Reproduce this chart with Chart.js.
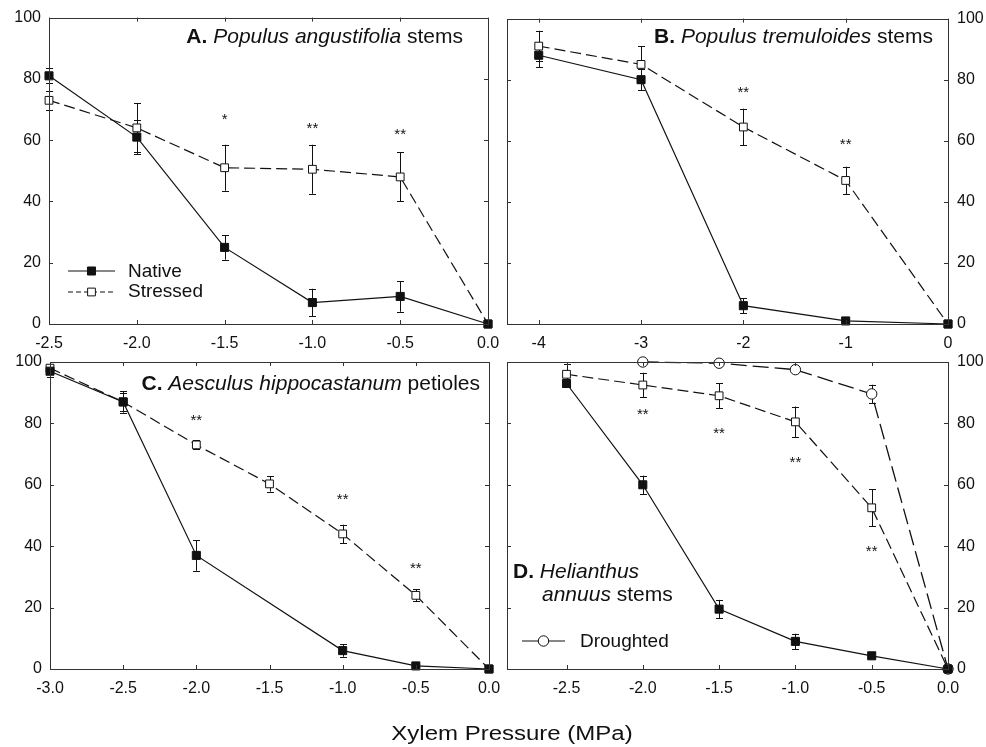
<!DOCTYPE html>
<html>
<head>
<meta charset="utf-8">
<script src="https://cdn.jsdelivr.net/npm/chart.js@4.4.1/dist/chart.umd.min.js"></script>
<style>
html,body{margin:0;padding:0;background:#fff;}
#wrap{position:relative;width:986px;height:747px;overflow:hidden;background:#fff;}
canvas{position:absolute;left:0;top:0;}
#xt{position:absolute;left:512px;top:723px;white-space:nowrap;font:20px/20px "Liberation Sans",Arial,Helvetica,sans-serif;color:#111;transform:translateX(-50%) scaleX(1.2);}
</style>
</head>
<body>
<div id="wrap">
<canvas id="cA" width="986" height="747"></canvas>
<canvas id="cB" width="986" height="747"></canvas>
<canvas id="cC" width="986" height="747"></canvas>
<canvas id="cD" width="986" height="747"></canvas>
<div id="xt">Xylem Pressure (MPa)</div>
</div>
<script>
// ---------------- DATA ----------------
const yTicks = [0, 20, 40, 60, 80, 100];

// Panel A: Populus angustifolia stems
const aXTicks = [-2.5, -2.0, -1.5, -1.0, -0.5, 0.0];
const aX = [-2.5, -2.0, -1.5, -1.0, -0.5, 0.0];
const aNative = [81, 61, 25, 7, 9, 0];
const aNativeErr = [2.5, 5.5, 4, 4.5, 5, 0];
const aStressed = [73, 64, 51, 50.5, 48, 0];
const aStressedErr = [3, 8, 7.5, 8, 8, 0];
const aStarX = [-1.5, -1.0, -0.5];
const aStarY = [68, 65, 63];
const aStarText = ['*', '**', '**'];

// Panel B: Populus tremuloides stems
const bXTicks = [-4, -3, -2, -1, 0];
const bX = [-4, -3, -2, -1, 0];
const bNative = [88, 80, 6, 1, 0];
const bNativeErr = [4, 3.5, 2.5, 0.8, 0];
const bStressed = [91, 85, 64.5, 47, 0];
const bStressedErr = [5, 6, 6, 4.5, 0];
const bStarX = [-2, -1];
const bStarY = [77, 60];
const bStarText = ['**', '**'];

// Panel C: Aesculus hippocastanum petioles
const cXTicks = [-3.0, -2.5, -2.0, -1.5, -1.0, -0.5, 0.0];
const cNativeX = [-3.0, -2.5, -2.0, -1.0, -0.5, 0.0];
const cNative = [97, 87, 37, 6, 1, 0];
const cNativeErr = [2, 3, 5, 2, 0.5, 0];
const cStressedX = [-3.0, -2.5, -2.0, -1.5, -1.0, -0.5, 0.0];
const cStressed = [98, 87, 73, 60.3, 44, 24, 0];
const cStressedErr = [1, 3.5, 1.5, 2.5, 3, 2, 0];
const cStarX = [-2.0, -1.0, -0.5];
const cStarY = [82, 56.5, 34];
const cStarText = ['**', '**', '**'];

// Panel D: Helianthus annuus stems
const dXTicks = [-2.5, -2.0, -1.5, -1.0, -0.5, 0.0];
const dX = [-2.5, -2.0, -1.5, -1.0, -0.5, 0.0];
const dNative = [93, 60, 19.5, 9, 4.3, 0];
const dNativeErr = [1, 3, 3, 2.5, 0.8, 0];
const dStressed = [96, 92.5, 89, 80.5, 52.5, 0];
const dStressedErr = [3.5, 4, 4, 5, 6, 0];
const dDroughtX = [-2.0, -1.5, -1.0, -0.5, 0.0];
const dDrought = [100, 99.6, 97.5, 89.6, 0];
const dDroughtErr = [0, 0, 0, 3, 0];
const dStarX = [-2.0, -1.5, -1.0, -0.5];
const dStarY = [84, 78, 68.5, 39.5];
const dStarText = ['**', '**', '**', '**'];

// ---------------- RENDERING ----------------
const FONT = '"Liberation Sans", Arial, Helvetica, sans-serif';
const INK = '#111';
const toXY = (xs, ys) => xs.map((x, i) => ({x: x, y: ys[i]}));

const NATIVE = {shape: 'rect', r: 5.7, fill: INK, dash: [], lw: 1.2};
const STRESSED = {shape: 'rect', r: 5.5, fill: '#fff', dash: [11, 5], lw: 1.2};
const DROUGHT = {shape: 'circle', r: 5.2, fill: '#fff', dash: [16, 6], lw: 1.3};

function drawMarker(ctx, style, x, y) {
  ctx.save();
  ctx.fillStyle = style.fill; ctx.strokeStyle = INK; ctx.lineWidth = 1;
  ctx.beginPath();
  if (style.shape === 'rect') {
    const s = style.r * Math.SQRT1_2;
    ctx.rect(x - s, y - s, 2 * s, 2 * s);
  } else {
    ctx.arc(x, y, style.r, 0, Math.PI * 2);
  }
  ctx.fill(); ctx.stroke();
  ctx.restore();
}

function makeDecor(opt) {
  return {
    id: 'decor',
    beforeDatasetsDraw(chart) {
      const ctx = chart.ctx, ys = chart.scales.y;
      ctx.save();
      ctx.strokeStyle = INK; ctx.lineWidth = 1;
      chart.data.datasets.forEach((ds, i) => {
        const meta = chart.getDatasetMeta(i);
        const err = opt.series[i].err;
        meta.data.forEach((pt, j) => {
          const e = err[j];
          if (!e) return;
          const v = ds.data[j].y;
          const y1 = ys.getPixelForValue(v + e), y2 = ys.getPixelForValue(v - e);
          const x = Math.round(pt.x) + 0.5;
          ctx.beginPath();
          ctx.moveTo(x, y1); ctx.lineTo(x, y2);
          ctx.moveTo(x - 3.5, Math.round(y1) + 0.5); ctx.lineTo(x + 3.5, Math.round(y1) + 0.5);
          ctx.moveTo(x - 3.5, Math.round(y2) + 0.5); ctx.lineTo(x + 3.5, Math.round(y2) + 0.5);
          ctx.stroke();
        });
      });
      ctx.restore();
    },
    afterDraw(chart) {
      const ctx = chart.ctx, a = chart.chartArea;
      const xs = chart.scales.x, ys = chart.scales.y;
      ctx.save();
      // frame
      ctx.strokeStyle = '#333'; ctx.lineWidth = 1;
      ctx.strokeRect(Math.round(a.left) + 0.5, Math.round(a.top) + 0.5,
                     Math.round(a.right - a.left), Math.round(a.bottom - a.top));
      // inward ticks
      const TL = 4;
      ctx.beginPath();
      xs.ticks.forEach(t => {
        const x = Math.round(xs.getPixelForValue(t.value)) + 0.5;
        ctx.moveTo(x, a.bottom); ctx.lineTo(x, a.bottom - TL);
        ctx.moveTo(x, a.top); ctx.lineTo(x, a.top + TL);
      });
      ys.ticks.forEach(t => {
        const y = Math.round(ys.getPixelForValue(t.value)) + 0.5;
        ctx.moveTo(a.left, y); ctx.lineTo(a.left + TL, y);
        ctx.moveTo(a.right, y); ctx.lineTo(a.right - TL, y);
      });
      ctx.stroke();
      // significance stars
      ctx.fillStyle = INK;
      ctx.font = '15px ' + FONT;
      ctx.textAlign = 'center';
      ctx.textBaseline = 'alphabetic';
      opt.starX.forEach((sx, i) => {
        ctx.fillText(opt.starText[i], xs.getPixelForValue(sx), ys.getPixelForValue(opt.starY[i]) + 8);
      });
      // panel title
      ctx.textAlign = 'left';
      opt.title.forEach(line => {
        let w = 0;
        line.segs.forEach(s => { ctx.font = s[1] + ' 21px ' + FONT; w += ctx.measureText(s[0]).width; });
        let x = line.align === 'right' ? line.x - w : line.x;
        line.segs.forEach(s => {
          ctx.font = s[1] + ' 21px ' + FONT;
          ctx.fillText(s[0], x, line.y);
          x += ctx.measureText(s[0]).width;
        });
      });
      // legend
      (opt.legend || []).forEach(l => {
        ctx.save();
        ctx.strokeStyle = INK; ctx.lineWidth = 1.2;
        ctx.setLineDash(l.dashed ? [5, 3] : []);
        ctx.beginPath(); ctx.moveTo(l.x0, l.y); ctx.lineTo(l.x1, l.y); ctx.stroke();
        ctx.setLineDash([]);
        drawMarker(ctx, l.style, (l.x0 + l.x1) / 2, l.y);
        ctx.restore();
        ctx.fillStyle = INK;
        ctx.font = '19px ' + FONT;
        ctx.fillText(l.label, l.tx, l.ty);
      });
      ctx.restore();
    }
  };
}

function buildChart(id, opt) {
  const datasets = opt.series.map(s => ({
    label: s.label,
    data: toXY(s.x, s.y),
    borderColor: INK,
    borderWidth: s.style.lw,
    borderDash: s.style.dash,
    pointStyle: s.style.shape,
    pointRadius: s.style.r,
    pointBackgroundColor: s.style.fill,
    pointBorderColor: INK,
    pointBorderWidth: 1,
    tension: 0,
    fill: false,
    clip: false
  }));
  const tickFont = {family: FONT, size: 16};
  return new Chart(document.getElementById(id), {
    type: 'line',
    data: {datasets: datasets},
    options: {
      responsive: false,
      animation: false,
      devicePixelRatio: 1,
      events: [],
      layout: {padding: opt.padding},
      plugins: {legend: {display: false}, tooltip: {enabled: false}},
      scales: {
        x: {
          type: 'linear', min: opt.xMin, max: 0,
          grid: {display: false, drawTicks: false}, border: {display: false},
          afterBuildTicks: s => { s.ticks = opt.xTicks.map(v => ({value: v})); },
          afterFit: s => { s.height = 30; },
          ticks: {callback: v => Number(v).toFixed(opt.dec), font: tickFont, color: INK,
                  padding: 10, maxRotation: 0, minRotation: 0, autoSkip: false}
        },
        y: {
          type: 'linear', position: opt.yPos, min: 0, max: 100,
          grid: {display: false, drawTicks: false}, border: {display: false},
          afterBuildTicks: s => { s.ticks = yTicks.map(v => ({value: v})); },
          afterFit: s => { s.width = opt.yW; },
          ticks: {font: tickFont, color: INK, padding: opt.yPos === 'left' ? 8 : 9, autoSkip: false}
        }
      }
    },
    plugins: [makeDecor(opt)]
  });
}

buildChart('cA', {
  xMin: -2.5, xTicks: aXTicks, dec: 1, yPos: 'left', yW: 49,
  padding: {left: 0, right: 498, top: 16, bottom: 393},
  series: [
    {label: 'Native', x: aX, y: aNative, err: aNativeErr, style: NATIVE},
    {label: 'Stressed', x: aX, y: aStressed, err: aStressedErr, style: STRESSED}
  ],
  starX: aStarX, starY: aStarY, starText: aStarText,
  title: [{align: 'right', x: 463, y: 43, segs: [['A. ', 'bold'], ['Populus angustifolia', 'italic'], [' stems', '']]}],
  legend: [
    {label: 'Native', style: NATIVE, dashed: false, x0: 68, x1: 115, y: 271, tx: 128, ty: 277},
    {label: 'Stressed', style: STRESSED, dashed: true, x0: 68, x1: 115, y: 292, tx: 128, ty: 297}
  ]
});

buildChart('cB', {
  xMin: -4.31, xTicks: bXTicks, dec: 0, yPos: 'right', yW: 38,
  padding: {left: 507, right: 0, top: 16, bottom: 393},
  series: [
    {label: 'Native', x: bX, y: bNative, err: bNativeErr, style: NATIVE},
    {label: 'Stressed', x: bX, y: bStressed, err: bStressedErr, style: STRESSED}
  ],
  starX: bStarX, starY: bStarY, starText: bStarText,
  title: [{align: 'right', x: 933, y: 43, segs: [['B. ', 'bold'], ['Populus tremuloides', 'italic'], [' stems', '']]}]
});

buildChart('cC', {
  xMin: -3.0, xTicks: cXTicks, dec: 1, yPos: 'left', yW: 50,
  padding: {left: 0, right: 497, top: 362, bottom: 48},
  series: [
    {label: 'Native', x: cNativeX, y: cNative, err: cNativeErr, style: NATIVE},
    {label: 'Stressed', x: cStressedX, y: cStressed, err: cStressedErr, style: STRESSED}
  ],
  starX: cStarX, starY: cStarY, starText: cStarText,
  title: [{align: 'right', x: 480, y: 390, segs: [['C. ', 'bold'], ['Aesculus hippocastanum', 'italic'], [' petioles', '']]}]
});

buildChart('cD', {
  xMin: -2.89, xTicks: dXTicks, dec: 1, yPos: 'right', yW: 38,
  padding: {left: 507, right: 0, top: 362, bottom: 48},
  series: [
    {label: 'Native', x: dX, y: dNative, err: dNativeErr, style: NATIVE},
    {label: 'Stressed', x: dX, y: dStressed, err: dStressedErr, style: STRESSED},
    {label: 'Droughted', x: dDroughtX, y: dDrought, err: dDroughtErr, style: DROUGHT}
  ],
  starX: dStarX, starY: dStarY, starText: dStarText,
  title: [
    {align: 'left', x: 513, y: 578, segs: [['D. ', 'bold'], ['Helianthus', 'italic']]},
    {align: 'left', x: 542, y: 601, segs: [['annuus', 'italic'], [' stems', '']]}
  ],
  legend: [
    {label: 'Droughted', style: DROUGHT, dashed: false, x0: 522, x1: 565, y: 641, tx: 580, ty: 647}
  ]
});
</script>
</body>
</html>
